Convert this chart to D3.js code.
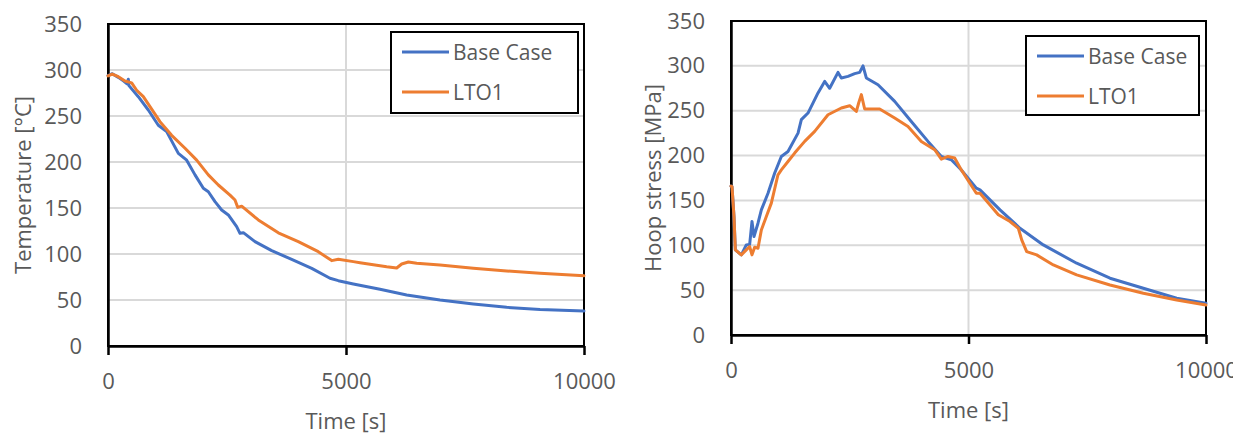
<!DOCTYPE html>
<html>
<head>
<meta charset="utf-8">
<script src="https://cdn.jsdelivr.net/npm/d3@7"></script>
<style>
  body { margin: 0; background: #fff; }
  svg text { font-family: "Open Sans", "Liberation Sans", sans-serif; fill: #595959; }
</style>
</head>
<body>
<div id="chart"></div>
<script>
// Temperature chart data
const tempBaseTime = [0, 90, 217, 330, 400, 427, 440, 637, 847, 1057, 1232, 1478, 1653, 1828, 2003, 2108, 2248, 2388, 2528, 2703, 2773, 2843, 3088, 3439, 3859, 4280, 4664, 4839, 5154, 5714, 6275, 6975, 7675, 8376, 9076, 10000];
const tempBase = [294, 296, 292, 288, 285, 290, 283, 271, 256.5, 240, 233, 209.4, 202, 186, 171.4, 167.7, 156.9, 147.8, 142.4, 129.7, 122.5, 123.2, 113.4, 103.6, 94.2, 84.4, 73.6, 71, 67.4, 61.6, 55.4, 50, 45.6, 42, 39.8, 38];
const tempLtoTime = [0, 90, 217, 357, 497, 602, 742, 952, 1092, 1337, 1618, 1863, 2108, 2318, 2563, 2668, 2724, 2808, 3158, 3578, 3998, 4418, 4594, 4699, 4839, 5154, 5294, 5855, 6065, 6170, 6310, 6485, 6975, 7675, 8376, 9076, 10000];
const tempLto = [293.5, 295.6, 292.7, 288, 286, 278, 271, 254.7, 243.8, 229, 214.9, 202, 186, 175, 164, 158.7, 150.7, 152, 137, 123, 113.4, 102.5, 96.4, 92.8, 94.2, 91.7, 90.6, 86.2, 84.8, 89.1, 91.3, 89.9, 88, 84.4, 81.5, 79, 76.4];

// Hoop stress chart data
const hoopBaseTime = [0, 21, 63, 91, 217, 322, 393, 442, 484, 568, 639, 779, 920, 1060, 1200, 1411, 1481, 1621, 1832, 1972, 2077, 2253, 2323, 2463, 2604, 2709, 2779, 2849, 3095, 3446, 3796, 4147, 4428, 4638, 4849, 5165, 5242, 5663, 6084, 6575, 7277, 7979, 8681, 9383, 10000];
const hoopBase = [166, 165.5, 132, 95, 89.3, 100.4, 101, 126.5, 109.7, 124.6, 139.5, 158, 180.5, 199, 204.6, 225, 240, 247.4, 269.8, 282.7, 275, 292.7, 286.5, 288.3, 291.3, 292.7, 300, 286.5, 279, 260.4, 238, 215.8, 199, 195.3, 184, 163.7, 161.8, 139.5, 119, 100.4, 80, 63.3, 52.1, 41, 35.4];
const hoopLtoTime = [0, 21, 63, 91, 217, 322, 393, 442, 498, 568, 639, 744, 849, 989, 1060, 1200, 1340, 1551, 1762, 2042, 2323, 2499, 2639, 2688, 2744, 2814, 3130, 3446, 3726, 4007, 4288, 4428, 4568, 4709, 4849, 5165, 5242, 5628, 5874, 6049, 6120, 6225, 6435, 6786, 7277, 7979, 8681, 9383, 10000];
const hoopLto = [166, 165.5, 132, 94.9, 89.3, 94.9, 98.6, 89.3, 97.9, 96.7, 117, 132, 147, 178.6, 184, 193.4, 202.8, 215.8, 226.9, 245.5, 253, 255.6, 249.2, 258.6, 267.9, 251.9, 251.9, 241.9, 232.5, 215.8, 206.5, 196, 199, 197.2, 184, 158, 158, 134, 126.5, 119, 106, 93, 89.3, 78.1, 67, 55.8, 46.5, 39, 33.5];

const xTicks = [0, 5000, 10000];
const yTicks = [0, 50, 100, 150, 200, 250, 300, 350];
const seriesNames = ["Base Case", "LTO1"];
const seriesColors = ["#4472C4", "#ED7D31"];

const svg = d3.select("#chart").append("svg")
    .attr("width", 1244)
    .attr("height", 435);

svg.append("defs").append("clipPath")
    .attr("id", "pageClip")
    .append("rect")
    .attr("x", 0).attr("y", 0)
    .attr("width", 1233).attr("height", 435);

function drawChart(cfg) {
    const g = svg.append("g").attr("clip-path", "url(#pageClip)");
    const x = d3.scaleLinear().domain([0, 10000]).range([cfg.left, cfg.right]);
    const y = d3.scaleLinear().domain([0, 350]).range([cfg.bottom, cfg.top]);

    // gridlines
    g.selectAll(".hgrid")
        .data(yTicks.filter(v => v > 0 && v < 350))
        .enter().append("line")
        .attr("x1", cfg.left).attr("x2", cfg.right)
        .attr("y1", d => y(d)).attr("y2", d => y(d))
        .attr("stroke", "#d9d9d9").attr("stroke-width", 2);
    g.selectAll(".vgrid")
        .data(xTicks.filter(v => v > 0 && v < 10000))
        .enter().append("line")
        .attr("x1", d => x(d)).attr("x2", d => x(d))
        .attr("y1", cfg.top).attr("y2", cfg.bottom)
        .attr("stroke", "#d9d9d9").attr("stroke-width", 2);

    // frame
    g.append("rect")
        .attr("x", cfg.left).attr("y", cfg.top)
        .attr("width", cfg.right - cfg.left).attr("height", cfg.bottom - cfg.top)
        .attr("fill", "none").attr("stroke", "#000").attr("stroke-width", 2);

    // x axis
    const xAxis = g.append("g")
        .attr("transform", "translate(0," + cfg.bottom + ")")
        .call(d3.axisBottom(x).tickValues(xTicks).tickSize(9).tickSizeOuter(0).tickPadding(18).tickFormat(d3.format("d")));
    xAxis.select(".domain").attr("stroke", "#000").attr("stroke-width", 2.5);
    xAxis.selectAll(".tick line").attr("stroke", "#000").attr("stroke-width", 2.5);
    xAxis.selectAll("text").style("font-size", "22px").attr("fill", "#595959")
        .style("font-family", "'Open Sans', sans-serif");

    // y axis
    const yAxis = g.append("g")
        .attr("transform", "translate(" + cfg.left + ",0)")
        .call(d3.axisLeft(y).tickValues(yTicks).tickSize(0).tickPadding(26));
    yAxis.select(".domain").attr("stroke", "#000").attr("stroke-width", 2.5);
    yAxis.selectAll("text").style("font-size", "22px").attr("fill", "#595959")
        .style("font-family", "'Open Sans', sans-serif");

    // axis titles
    g.append("text")
        .attr("x", (cfg.left + cfg.right) / 2)
        .attr("y", cfg.xTitleY)
        .attr("text-anchor", "middle")
        .attr("dominant-baseline", "central")
        .style("font-size", "22px")
        .text("Time [s]");
    g.append("text")
        .attr("transform", "translate(" + cfg.yTitleX + "," + (cfg.top + cfg.bottom) / 2 + ") rotate(-90)")
        .attr("text-anchor", "middle")
        .attr("dominant-baseline", "central")
        .style("font-size", "22px")
        .text(cfg.yTitle);

    // lines
    const line = d3.line()
        .x(d => x(d[0]))
        .y(d => y(d[1]));
    cfg.series.forEach((s, i) => {
        const pts = d3.zip(s.t, s.v);
        g.append("path")
            .datum(pts)
            .attr("d", line)
            .attr("fill", "none")
            .attr("stroke", seriesColors[i])
            .attr("stroke-width", 3)
            .attr("stroke-linejoin", "round")
            .attr("stroke-linecap", "round");
    });

    // legend
    const lg = g.append("g").attr("transform", "translate(" + cfg.legX + "," + cfg.legY + ")");
    lg.append("rect")
        .attr("width", cfg.legW).attr("height", cfg.legH)
        .attr("fill", "#fff").attr("stroke", "#000").attr("stroke-width", 2);
    seriesNames.forEach((name, i) => {
        const ly = 20 + i * 40;
        lg.append("line")
            .attr("x1", 11).attr("x2", 58)
            .attr("y1", ly).attr("y2", ly)
            .attr("stroke", seriesColors[i]).attr("stroke-width", 3);
        lg.append("text")
            .attr("x", 62).attr("y", ly)
            .attr("dominant-baseline", "central")
            .style("font-size", "21px")
            .text(name);
    });
}

drawChart({
    left: 108, right: 584, top: 24, bottom: 346,
    xTitleY: 420, yTitleX: 22, yTitle: "Temperature [°C]",
    legX: 391, legY: 32, legW: 187, legH: 81,
    series: [{t: tempBaseTime, v: tempBase}, {t: tempLtoTime, v: tempLto}]
});

drawChart({
    left: 731, right: 1206, top: 21, bottom: 335,
    xTitleY: 409, yTitleX: 652, yTitle: "Hoop stress [MPa]",
    legX: 1026, legY: 36, legW: 173, legH: 79,
    series: [{t: hoopBaseTime, v: hoopBase}, {t: hoopLtoTime, v: hoopLto}]
});
</script>
</body>
</html>
